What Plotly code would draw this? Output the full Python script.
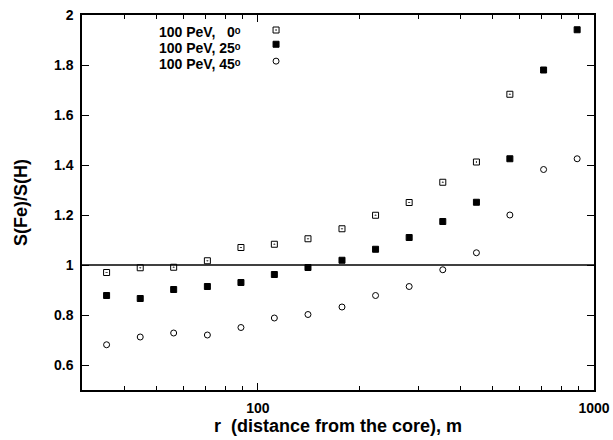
import plotly.graph_objects as go

# distance from the core, m
r = [35.5, 44.7, 56.2, 70.8, 89.1, 112, 141, 178, 224, 282, 355, 447, 562, 708, 891]

# S(Fe)/S(H) ratios
ratio_0 = [0.970, 0.989, 0.991, 1.017, 1.070, 1.083, 1.105, 1.145, 1.199, 1.250, 1.331, 1.412, 1.683]
ratio_25 = [0.878, 0.866, 0.902, 0.914, 0.930, 0.962, 0.990, 1.019, 1.063, 1.110, 1.174, 1.251, 1.425, 1.780, 1.941]
ratio_45 = [0.681, 0.712, 0.728, 0.720, 0.750, 0.788, 0.802, 0.832, 0.878, 0.914, 0.981, 1.049, 1.200, 1.382, 1.425]

labels = ["100 PeV,   0ᵒ", "100 PeV, 25ᵒ", "100 PeV, 45ᵒ"]
symbols = ["square-open-dot", "square", "circle-open"]

x_ticks = [100, 1000]
x_minor = [40, 50, 60, 70, 80, 90, 200, 300, 400, 500, 600, 700, 800, 900]
y_ticks = [0.6, 0.8, 1.0, 1.2, 1.4, 1.6, 1.8, 2.0]

FONT = "Liberation Sans, Arial, sans-serif"

fig = go.Figure()
series = [ratio_0, ratio_25, ratio_45]
for vals, sym in zip(series, symbols):
    fig.add_trace(go.Scatter(
        x=r[:len(vals)], y=vals, mode="markers",
        marker=dict(symbol=sym, size=6, color="black", line=dict(width=1, color="black")),
        showlegend=False, cliponaxis=False,
    ))

# legend keys (gnuplot style: text then symbol)
leg_x = 0.379
leg_key_y = [0.96, 0.922, 0.877]
leg_txt_y = [0.955, 0.913, 0.870]
for lab, sym, ky, ty in zip(labels, symbols, leg_key_y, leg_txt_y):
    fig.add_trace(go.Scatter(
        x=[leg_x], y=[ky], xaxis="x2", yaxis="y2", mode="markers",
        marker=dict(symbol=sym, size=6, color="black", line=dict(width=1, color="black")),
        showlegend=False, hoverinfo="skip",
    ))
    fig.add_annotation(
        text=lab, xref="paper", yref="paper", x=0.315, y=ty,
        xanchor="right", yanchor="middle", showarrow=False,
        font=dict(family=FONT, size=14, color="black", weight="bold"),
    )

fig.add_shape(type="line", xref="paper", yref="y", x0=0, x1=1, y0=1, y1=1,
              line=dict(color="black", width=1.3))

fig.update_layout(
    width=613, height=440,
    margin=dict(l=82, r=19, t=15, b=50),
    paper_bgcolor="white", plot_bgcolor="white",
    font=dict(family=FONT, size=14, color="black"),
    xaxis=dict(
        type="log", range=[1.4771, 3.0], automargin=False,
        tickvals=x_ticks, ticktext=["100", "1000"],
        ticks="inside", ticklen=7, tickwidth=1, tickcolor="black",
        showline=True, linecolor="black", linewidth=1.5, mirror="ticks",
        showgrid=False, zeroline=False,
        minor=dict(tickvals=x_minor, ticks="inside", ticklen=4, tickcolor="black", tickwidth=1, showgrid=False),
        tickfont=dict(family=FONT, size=14, weight="bold"),
        ticklabelstandoff=4,
        title=dict(text="r  (distance from the core), m", standoff=3,
                   font=dict(family=FONT, size=18, weight="bold")),
    ),
    yaxis=dict(
        range=[0.5, 2.0], automargin=False,
        tickvals=y_ticks,
        ticks="inside", ticklen=7, tickwidth=1, tickcolor="black",
        showline=True, linecolor="black", linewidth=1.5, mirror="ticks",
        showgrid=False, zeroline=False,
        tickfont=dict(family=FONT, size=14, weight="bold"),
        ticklabelstandoff=4,
        title=dict(text="S(Fe)/S(H)", standoff=22,
                   font=dict(family=FONT, size=18, weight="bold")),
    ),
    xaxis2=dict(domain=[0, 1], range=[0, 1], overlaying="x", visible=False),
    yaxis2=dict(domain=[0, 1], range=[0, 1], overlaying="y", visible=False),
)

fig.write_html("out.html")
